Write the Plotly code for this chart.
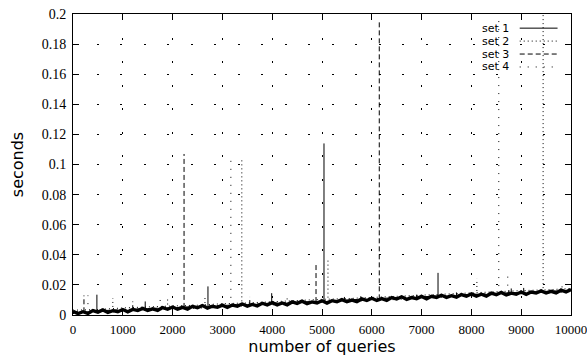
import plotly.graph_objects as go

# ---------------- data ----------------
# set 1 typical query time, sampled every 100 queries (noisy band)
set1_q = list(range(0, 10001, 100))
set1_s = [0.0024, 0.00095, 0.0022, 0.00104, 0.0029, 0.0019, 0.0034, 0.0017, 0.0029, 0.0022,
          0.00365, 0.0021, 0.0037, 0.0030, 0.0044, 0.0030, 0.0041, 0.0031, 0.0049, 0.0038,
          0.0053, 0.00385, 0.0051, 0.0039, 0.0058, 0.0048, 0.0063, 0.0046, 0.0058, 0.0051,
          0.00655, 0.0050, 0.0066, 0.0059, 0.0073, 0.0059, 0.0070, 0.0060, 0.0078, 0.0067,
          0.0082, 0.00675, 0.0080, 0.0068, 0.0087, 0.0077, 0.0092, 0.0075, 0.0087, 0.0080,
          0.00945, 0.0079, 0.0095, 0.0088, 0.0102, 0.0088, 0.0099, 0.0089, 0.0107, 0.0096,
          0.0111, 0.00965, 0.0109, 0.0097, 0.0116, 0.0106, 0.0121, 0.0104, 0.0116, 0.0109,
          0.01235, 0.0108, 0.0124, 0.0117, 0.0131, 0.0117, 0.0128, 0.0118, 0.0136, 0.0125,
          0.0140, 0.01255, 0.0138, 0.0126, 0.0145, 0.0135, 0.0150, 0.0133, 0.0145, 0.0138,
          0.01525, 0.0137, 0.0153, 0.0146, 0.0160, 0.0146, 0.0157, 0.0147, 0.0165, 0.0154,
          0.0169]

# sets 2-4 typical query time, sampled every 500 queries
base_q = list(range(0, 10001, 500))
set2_s = [0.0032, 0.0036, 0.0047, 0.0051, 0.0060, 0.0065, 0.0075, 0.0080, 0.0089, 0.0094,
          0.0104, 0.0109, 0.0117, 0.0124, 0.0133, 0.0138, 0.0147, 0.0153, 0.0162, 0.0167, 0.0176]
set3_s = [0.0020, 0.0029, 0.0034, 0.0043, 0.0048, 0.0058, 0.0063, 0.0072, 0.0078, 0.0086,
          0.0092, 0.0101, 0.0106, 0.0115, 0.0121, 0.0130, 0.0135, 0.0144, 0.0150, 0.0158, 0.0164]
set4_s = [0.0010, 0.0016, 0.0026, 0.0031, 0.0040, 0.0045, 0.0055, 0.0060, 0.0069, 0.0074,
          0.0084, 0.0089, 0.0098, 0.0103, 0.0113, 0.0117, 0.0127, 0.0132, 0.0142, 0.0147, 0.0156]

# slow queries (spikes): query index, base time, peak time
set1_spike_q  = [480, 1450, 2710, 3990, 5040, 5780, 6900, 7330, 8750, 9050]
set1_spike_lo = [0.0022, 0.0036, 0.0054, 0.0073, 0.0088, 0.0099, 0.0115, 0.0121, 0.0142, 0.0146]
set1_spike_hi = [0.0135, 0.0090, 0.0190, 0.0145, 0.1140, 0.0125, 0.0135, 0.0280, 0.0165, 0.0180]

set2_spike_q  = [800, 1900, 2650, 3390, 4300, 5120, 6600, 8110, 9440, 9820]
set2_spike_lo = [0.0027, 0.0043, 0.0053, 0.0064, 0.0077, 0.0089, 0.0111, 0.0133, 0.0152, 0.0157]
set2_spike_hi = [0.0110, 0.0110, 0.0130, 0.1040, 0.0125, 0.0370, 0.0125, 0.0240, 0.2300, 0.0200]

set3_spike_q  = [220, 1200, 2230, 3550, 4880, 5450, 6150, 7700, 8800]
set3_spike_lo = [0.0018, 0.0032, 0.0047, 0.0066, 0.0086, 0.0094, 0.0104, 0.0127, 0.0143]
set3_spike_hi = [0.0130, 0.0090, 0.1070, 0.0120, 0.0340, 0.0120, 0.1950, 0.0150, 0.0190]

set4_spike_q  = [300, 1750, 3170, 4600, 6250, 7900, 8550, 8730, 9300]
set4_spike_lo = [0.0019, 0.0040, 0.0061, 0.0082, 0.0106, 0.0130, 0.0139, 0.0142, 0.0150]
set4_spike_hi = [0.0130, 0.0100, 0.1060, 0.0120, 0.0140, 0.0150, 0.1990, 0.0300, 0.0170]

set_names = ["set 1", "set 2", "set 3", "set 4"]
x_ticks = [0, 1000, 2000, 3000, 4000, 5000, 6000, 7000, 8000, 9000, 10000]
y_ticks = [0, 0.02, 0.04, 0.06, 0.08, 0.1, 0.12, 0.14, 0.16, 0.18, 0.2]
y_tick_text = ["0", "0.02", "0.04", "0.06", "0.08", "0.1", "0.12", "0.14", "0.16", "0.18", "0.2"]

# ---------------- styles ----------------
dashes = ["solid", "1px,3px", "5px,3px", "1px,7px"]


def spike_path(qs, los, his):
    xs, ys = [], []
    for q, lo, hi in zip(qs, los, his):
        xs += [q, q, None]
        ys += [lo, hi, None]
    return xs, ys


fig = go.Figure()

bases = [(set1_q, set1_s, 3.4), (base_q, set2_s, 1), (base_q, set3_s, 1), (base_q, set4_s, 1)]
spikes = [(set1_spike_q, set1_spike_lo, set1_spike_hi),
          (set2_spike_q, set2_spike_lo, set2_spike_hi),
          (set3_spike_q, set3_spike_lo, set3_spike_hi),
          (set4_spike_q, set4_spike_lo, set4_spike_hi)]

for i, name in enumerate(set_names):
    bq, bs, w = bases[i]
    fig.add_trace(go.Scatter(x=bq, y=bs, mode="lines", name=name, showlegend=False,
                             legendgroup=name,
                             line=dict(color="black", width=w, dash=dashes[i])))
    sx, sy = spike_path(*spikes[i])
    fig.add_trace(go.Scatter(x=sx, y=sy, mode="lines", name=name, showlegend=False,
                             legendgroup=name, connectgaps=False,
                             line=dict(color="black", width=1, dash=dashes[i])))

# key (gnuplot style: label then line sample), placed in paper coordinates
key_y = [0.953, 0.910, 0.867, 0.824]
for i, name in enumerate(set_names):
    fig.add_annotation(x=0.877, y=key_y[i], xref="paper", yref="paper", text=name,
                       showarrow=False, xanchor="right", yanchor="middle", borderpad=0,
                       font=dict(family="DejaVu Sans", size=11, color="black"))
    fig.add_shape(type="line", xref="paper", yref="paper", x0=0.897, x1=0.973,
                  y0=key_y[i], y1=key_y[i],
                  line=dict(color="black", width=1, dash=dashes[i]))

axis_common = dict(showline=True, linecolor="black", linewidth=1, mirror="ticks",
                   ticks="inside", ticklen=6, tickcolor="black", tickwidth=1,
                   showgrid=True, gridcolor="black", gridwidth=1, griddash="2px,21.5px",
                   zeroline=False, automargin=False, ticklabeloverflow="allow")

fig.update_xaxes(range=[0, 10000], tickvals=x_ticks,
                 ticktext=[str(v) for v in x_ticks], ticklabelstandoff=2,
                 tickfont=dict(family="Liberation Serif", size=13, color="black"),
                 title=dict(text="number of queries", standoff=0,
                            font=dict(family="DejaVu Sans", size=16, color="black")),
                 **axis_common)
fig.update_yaxes(range=[0, 0.2], tickvals=y_ticks, ticktext=y_tick_text,
                 ticklabelstandoff=3,
                 tickfont=dict(family="Liberation Serif", size=14, color="black"),
                 title=dict(text="seconds", standoff=14,
                            font=dict(family="DejaVu Sans", size=16, color="black")),
                 **axis_common)

fig.update_layout(width=587, height=356,
                  margin=dict(l=73, r=16, t=14, b=41, pad=0),
                  plot_bgcolor="white", paper_bgcolor="white",
                  showlegend=False)

fig.write_html("out.html", config={"displayModeBar": False},
               post_script="document.body.style.margin='0';document.body.style.padding='0';")
